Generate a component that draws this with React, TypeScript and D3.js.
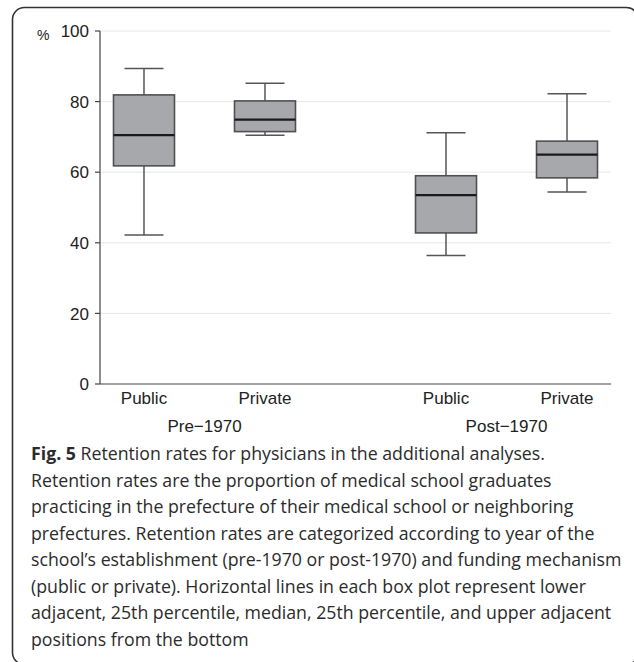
import React, { useLayoutEffect, useRef, useState } from "react";
import * as d3 from "d3";

// ---- data ----
const groups = ["Pre\u22121970", "Post\u22121970"];
const funding = ["Public", "Private"];
// [lowerAdjacent, q1, median, q3, upperAdjacent] per group x funding
const preStats = [
  [42.2, 61.8, 70.5, 81.9, 89.4],
  [70.5, 71.5, 74.9, 80.2, 85.2],
];
const postStats = [
  [36.4, 42.8, 53.5, 59.0, 71.2],
  [54.4, 58.4, 65.0, 68.8, 82.2],
];
const yTicks = [0, 20, 40, 60, 80, 100];
const captionBold = "Fig. 5";
const captionLines = [
  " Retention rates for physicians in the additional analyses.",
  "Retention rates are the proportion of medical school graduates",
  "practicing in the prefecture of their medical school or neighboring",
  "prefectures. Retention rates are categorized according to year of the",
  "school\u2019s establishment (pre-1970 or post-1970) and funding mechanism",
  "(public or private). Horizontal lines in each box plot represent lower",
  "adjacent, 25th percentile, median, 25th percentile, and upper adjacent",
  "positions from the bottom",
];

const W = 634;
const H = 662;
const plotL = 100;
const plotR = 611;
const plotT = 31;
const plotB = 384;

export default function App() {
  const y = d3.scaleLinear().domain([0, 100]).range([plotB, plotT]);
  const gx = d3.scalePoint<string>().domain(groups).range([plotL, plotR]).padding(0.346);
  const ix = d3.scalePoint<string>().domain(funding).range([-60.5, 60.5]);
  const boxW = 61;
  const capW = 39;
  const tickFont = "'Liberation Sans', Arial, Helvetica, sans-serif";
  const capFont = "'Open Sans', 'Noto Sans', sans-serif";

  const longRef = useRef<SVGTextElement>(null);
  const [capSize, setCapSize] = useState(17);
  useLayoutEffect(() => {
    const el = longRef.current;
    if (!el) return;
    const len = el.getComputedTextLength();
    const target = 591;
    if (len > 0 && Math.abs(len - target) > 1) {
      setCapSize((s) => (s * target) / len);
    }
  }, [capSize]);

  const boxes: { g: string; f: string; s: number[] }[] = [];
  groups.forEach((g, gi) => {
    const stats = gi === 0 ? preStats : postStats;
    funding.forEach((f, fi) => boxes.push({ g, f, s: stats[fi] }));
  });

  const capY0 = 460;
  const capDy = 26.5;

  return (
    <svg
      width={W}
      height={H}
      style={{ position: "absolute", left: 0, top: 0, background: "#fff" }}
    >
      <rect x={12.5} y={7.5} width={626} height={657} rx={12} ry={12} fill="none" stroke="#333" strokeWidth={1.6} />
      {/* gridlines */}
      {yTicks
        .filter((t) => t > 0)
        .map((t) => (
          <line key={"g" + t} x1={plotL} x2={plotR} y1={y(t)} y2={y(t)} stroke="#e6e6e6" strokeWidth={1} />
        ))}
      {/* axes */}
      <line x1={plotL} x2={plotL} y1={plotT} y2={plotB} stroke="#444" strokeWidth={1.2} />
      <line x1={plotL} x2={plotR} y1={plotB} y2={plotB} stroke="#444" strokeWidth={1.2} />
      {yTicks.map((t) => (
        <g key={"t" + t}>
          <line x1={plotL - 5} x2={plotL} y1={y(t)} y2={y(t)} stroke="#444" strokeWidth={1.2} />
          <text x={plotL - 11} y={y(t)} dy="0.36em" textAnchor="end" fontFamily={tickFont} fontSize={17} fill="#222">
            {t}
          </text>
        </g>
      ))}
      <text x={37} y={40} fontFamily={tickFont} fontSize={14} fill="#222">%</text>
      {/* boxes */}
      {boxes.map((b) => {
        const cx = (gx(b.g) as number) + (ix(b.f) as number);
        const [lo, q1, med, q3, hi] = b.s;
        return (
          <g key={b.g + b.f}>
            <line x1={cx} x2={cx} y1={y(hi)} y2={y(q3)} stroke="#555" strokeWidth={1.5} />
            <line x1={cx} x2={cx} y1={y(q1)} y2={y(lo)} stroke="#555" strokeWidth={1.5} />
            <line x1={cx - capW / 2} x2={cx + capW / 2} y1={y(hi)} y2={y(hi)} stroke="#555" strokeWidth={1.5} />
            <line x1={cx - capW / 2} x2={cx + capW / 2} y1={y(lo)} y2={y(lo)} stroke="#555" strokeWidth={1.5} />
            <rect x={cx - boxW / 2} y={y(q3)} width={boxW} height={y(q1) - y(q3)} fill="#a7a8ab" stroke="#505050" strokeWidth={1.6} />
            <line x1={cx - boxW / 2} x2={cx + boxW / 2} y1={y(med)} y2={y(med)} stroke="#1a1a1a" strokeWidth={2.2} />
            <text x={cx} y={404} textAnchor="middle" fontFamily={tickFont} fontSize={17} fill="#222">
              {b.f}
            </text>
          </g>
        );
      })}
      {groups.map((g) => (
        <text key={g} x={gx(g) as number} y={432} textAnchor="middle" fontFamily={tickFont} fontSize={17} fill="#222">
          {g}
        </text>
      ))}
      {/* caption */}
      {captionLines.map((ln, i) => (
        <text
          key={i}
          ref={i === 4 ? longRef : undefined}
          x={31}
          y={capY0 + i * capDy}
          fontFamily={capFont}
          fontSize={capSize}
          fill="#2b2b2b"
        >
          {i === 0 ? (
            <>
              <tspan fontWeight="bold">{captionBold}</tspan>
              {ln}
            </>
          ) : (
            ln
          )}
        </text>
      ))}
    </svg>
  );
}
